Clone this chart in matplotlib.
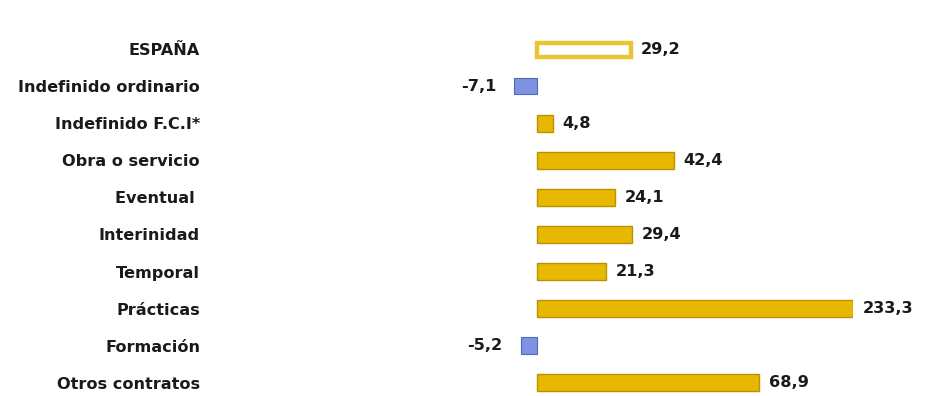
import numpy as np
import matplotlib
matplotlib.use('Agg')
import matplotlib.pyplot as plt

plt.rcParams['font.family'] = ['DejaVu Sans']

# datos
categorias = ['ESPAÑA', 'Indefinido ordinario', 'Indefinido F.C.I*', 'Obra o servicio',
              'Eventual ', 'Interinidad', 'Temporal', 'Prácticas', 'Formación',
              'Otros contratos']
valores = [29.2, -7.1, 4.8, 42.4, 24.1, 29.4, 21.3, 233.3, -5.2, 68.9]

oro = '#E8B800'
oro_borde = '#B89200'
azul = '#7E92E4'
azul_borde = '#5466B8'

x_min, x_max = -104.7, 98.0
fs = 11.6

fig = plt.figure(figsize=(9.46, 3.96), dpi=100)
ax = fig.add_axes([200 / 946, 0, 653 / 946, 366 / 396])

y = np.arange(len(categorias))
# la barra de Prácticas se corta en el borde del eje (escala rota)
largos = np.minimum(valores, x_max)

for i, (v, l) in enumerate(zip(valores, largos)):
    if i == 0:
        ax.barh(i + 0.02, l, height=0.38, color='white', edgecolor='#EBC234', linewidth=3.2)
    elif v < 0:
        ax.barh(i, l, height=0.44, color=azul, edgecolor=azul_borde, linewidth=0.8)
    else:
        ax.barh(i, l, height=0.46, color=oro, edgecolor=oro_borde, linewidth=1.0)
    txt = f'{v:.1f}'.replace('.', ',')
    if v < 0:
        ax.annotate(txt, (l, i), xytext=(-13, 0), textcoords='offset points',
                    ha='right', va='center', fontsize=fs, fontweight='bold', color='#1a1a1a')
    else:
        ax.annotate(txt, (l, i), xytext=(7, 0), textcoords='offset points',
                    ha='left', va='center', fontsize=fs, fontweight='bold', color='#1a1a1a',
                    annotation_clip=False)

ax.set_xlim(x_min, x_max)
ax.set_ylim(9.36, -0.52)
ax.set_yticks(y)
ax.set_yticklabels(categorias, fontsize=fs, fontweight='bold', color='#1a1a1a')
ax.tick_params(axis='y', length=0, pad=0)
ax.set_xticks([])
for s in ax.spines.values():
    s.set_visible(False)

plt.savefig('out.png', dpi=100)
